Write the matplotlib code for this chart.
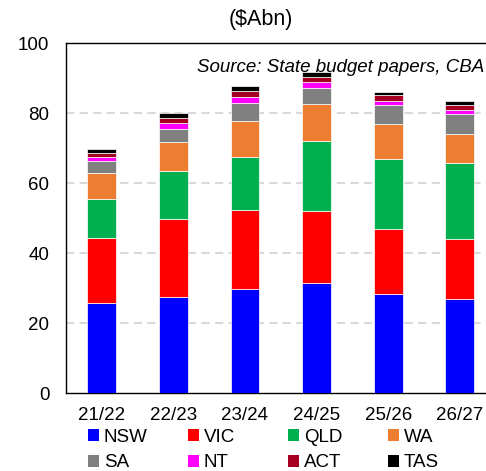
import matplotlib
matplotlib.use("Agg")
import matplotlib.pyplot as plt
from matplotlib.patches import Patch
import numpy as np

plt.rcParams['font.family'] = ['Liberation Sans', 'DejaVu Sans']

years = ["21/22", "22/23", "23/24", "24/25", "25/26", "26/27"]
states = ["NSW", "VIC", "QLD", "WA", "SA", "NT", "ACT", "TAS"]

# $Abn by state, per financial year
nsw = [25.9, 27.4, 29.9, 31.4, 28.5, 27.0]
vic = [18.6, 22.5, 22.4, 20.6, 18.4, 17.0]
qld = [11.0, 13.7, 15.2, 20.2, 20.0, 21.7]
wa = [7.4, 8.3, 10.3, 10.4, 10.0, 8.3]
sa = [3.5, 3.7, 5.1, 4.6, 5.5, 5.7]
nt = [1.0, 1.6, 1.8, 1.7, 1.2, 1.2]
act = [1.3, 1.4, 1.6, 1.6, 1.5, 1.5]
tas = [1.1, 1.6, 1.4, 1.4, 1.1, 1.0]

series = [nsw, vic, qld, wa, sa, nt, act, tas]
colors = ["#0000FF", "#FF0000", "#00B050", "#ED7D31", "#808080", "#FF00FF", "#A50021", "#000000"]

fig = plt.figure(figsize=(4.86, 4.71), dpi=100)
# axes runs past the right edge of the figure
ax = fig.add_axes([66 / 486, 1 - 393.3 / 471, 429.6 / 486, 350 / 471])

x = np.arange(len(years))
bottom = np.zeros(len(years))
for vals, col in zip(series, colors):
    ax.bar(x, vals, width=0.4, bottom=bottom, color=col, edgecolor="white", linewidth=0.5, zorder=3)
    bottom += np.array(vals)

ax.set_xlim(-0.5, 5.5)
ax.set_ylim(0, 100)
ax.set_yticks([0, 20, 40, 60, 80, 100])
ax.set_xticks(x)
ax.set_xticklabels(years)
ax.tick_params(axis="both", length=0, labelsize=13.5)
ax.tick_params(axis="y", pad=12)
ax.tick_params(axis="x", pad=10)

for yv in [20, 40, 60, 80]:
    ax.axhline(yv, color="#D9D9D9", linewidth=1.5, linestyle=(0, (4, 2.5)), zorder=1)

for side in ["left", "bottom", "top"]:
    ax.spines[side].set_color("black")
    ax.spines[side].set_linewidth(1.0)
ax.spines["right"].set_visible(False)

fig.text(261 / 486, 1 - 19 / 471, "($Abn)", ha="center", va="center", fontsize=15.5)
fig.text(197 / 486, 1 - 68 / 471, "Source: State budget papers, CBA", ha="left", va="center",
         fontsize=13.5, style="italic")

# legend laid out as four evenly spaced columns of two rows
col_x = [88, 188, 288, 388]
for c in range(4):
    idx = [c, c + 4]
    handles = [Patch(facecolor=colors[i], edgecolor="none") for i in idx]
    fig.legend(handles, [states[i] for i in idx], loc="upper left",
               bbox_to_anchor=(col_x[c] / 486, 1 - 429 / 471), frameon=False,
               fontsize=13.5, handlelength=0.6, handleheight=0.6, handletextpad=0.25,
               labelspacing=0.45, borderpad=0, borderaxespad=0)

fig.savefig("out.png", dpi=100)
